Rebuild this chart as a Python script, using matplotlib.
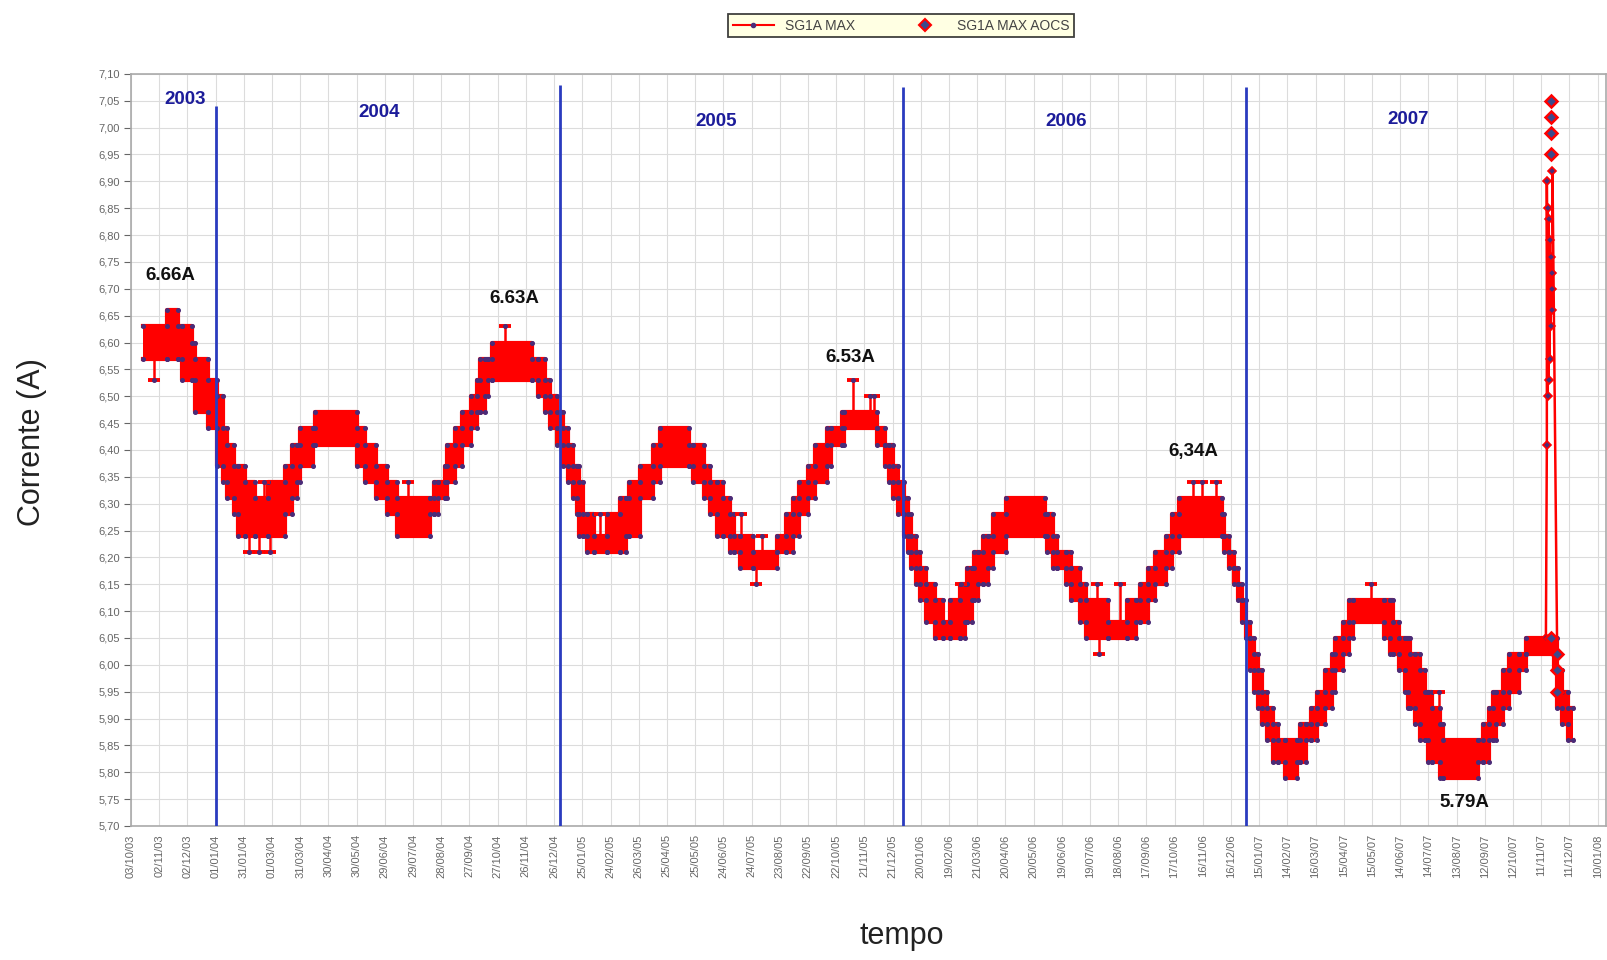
import matplotlib
matplotlib.use('Agg')
import matplotlib.pyplot as plt
from matplotlib.lines import Line2D
from matplotlib.ticker import FuncFormatter
import numpy as np
import pandas as pd

plt.rcParams['font.family'] = ['Liberation Sans', 'DejaVu Sans']

# Giorno zero della serie
inizio = pd.Timestamp('2003-10-03')

# SG1A MAX: fascia giornaliera a gradini (giorno dall'inizio, minimo, massimo)
giorni = [13, 38, 50, 54, 65, 68, 82, 91, 98, 102,
          109, 114, 121, 132, 146, 164, 171, 176, 180, 194,
          196, 240, 249, 261, 272, 283, 318, 322, 327, 334,
          336, 345, 352, 362, 368, 371, 376, 380, 384, 426,
          433, 440, 446, 453, 460, 465, 470, 474, 477, 481,
          485, 492, 506, 520, 527, 530, 541, 555, 563, 594,
          598, 609, 616, 623, 630, 637, 641, 648, 662, 687,
          697, 704, 711, 720, 728, 740, 745, 756, 758, 793,
          802, 806, 811, 816, 822, 826, 830, 835, 839, 846,
          855, 864, 871, 882, 887, 889, 894, 897, 901, 906,
          912, 917, 931, 972, 974, 981, 985, 995, 1000, 1009,
          1016, 1039, 1059, 1069, 1073, 1082, 1089, 1101, 1107, 1115,
          1160, 1163, 1168, 1173, 1178, 1182, 1186, 1190, 1195, 1199,
          1203, 1208, 1215, 1220, 1227, 1240, 1243, 1250, 1255, 1262,
          1270, 1277, 1281, 1289, 1296, 1300, 1333, 1339, 1342, 1349,
          1355, 1358, 1360, 1366, 1371, 1376, 1380, 1384, 1392, 1396,
          1433, 1438, 1445, 1449, 1452, 1459, 1466, 1476, 1484, 1514,
          1517, 1522, 1528, 1534]
minimo = [6.57, 6.57, 6.57, 6.53, 6.53, 6.47, 6.44, 6.37, 6.34, 6.31,
          6.28, 6.24, 6.24, 6.24, 6.24, 6.28, 6.31, 6.34, 6.37, 6.41,
          6.41, 6.37, 6.34, 6.31, 6.28, 6.24, 6.28, 6.28, 6.31, 6.31,
          6.34, 6.37, 6.41, 6.44, 6.47, 6.47, 6.50, 6.53, 6.53, 6.53,
          6.50, 6.47, 6.44, 6.41, 6.37, 6.34, 6.31, 6.28, 6.24, 6.24,
          6.21, 6.21, 6.21, 6.21, 6.24, 6.24, 6.31, 6.34, 6.37, 6.37,
          6.34, 6.31, 6.28, 6.24, 6.24, 6.21, 6.21, 6.18, 6.18, 6.21,
          6.21, 6.24, 6.28, 6.31, 6.34, 6.37, 6.41, 6.41, 6.44, 6.41,
          6.37, 6.34, 6.31, 6.28, 6.24, 6.21, 6.18, 6.15, 6.12, 6.08,
          6.05, 6.05, 6.05, 6.05, 6.08, 6.08, 6.12, 6.12, 6.15, 6.15,
          6.18, 6.21, 6.24, 6.24, 6.21, 6.18, 6.18, 6.15, 6.12, 6.08,
          6.05, 6.05, 6.05, 6.08, 6.08, 6.12, 6.15, 6.18, 6.21, 6.24,
          6.24, 6.21, 6.18, 6.15, 6.12, 6.08, 6.05, 5.99, 5.95, 5.92,
          5.89, 5.86, 5.82, 5.82, 5.79, 5.82, 5.82, 5.86, 5.86, 5.89,
          5.92, 5.95, 5.99, 6.02, 6.05, 6.08, 6.05, 6.02, 6.02, 5.99,
          5.95, 5.92, 5.92, 5.89, 5.86, 5.86, 5.82, 5.82, 5.79, 5.79,
          5.82, 5.82, 5.86, 5.86, 5.89, 5.92, 5.95, 5.99, 6.02, 5.99,
          5.92, 5.89, 5.86, 5.86]
massimo = [6.63, 6.66, 6.63, 6.63, 6.60, 6.57, 6.53, 6.50, 6.44, 6.41,
           6.37, 6.37, 6.34, 6.31, 6.34, 6.37, 6.41, 6.41, 6.44, 6.44,
           6.47, 6.44, 6.41, 6.37, 6.34, 6.31, 6.31, 6.34, 6.34, 6.37,
           6.41, 6.44, 6.47, 6.50, 6.53, 6.57, 6.57, 6.57, 6.60, 6.57,
           6.57, 6.53, 6.50, 6.47, 6.44, 6.41, 6.37, 6.37, 6.34, 6.28,
           6.28, 6.24, 6.28, 6.31, 6.31, 6.34, 6.37, 6.41, 6.44, 6.41,
           6.41, 6.37, 6.34, 6.34, 6.31, 6.28, 6.24, 6.24, 6.21, 6.24,
           6.28, 6.31, 6.34, 6.37, 6.41, 6.44, 6.44, 6.47, 6.47, 6.44,
           6.41, 6.41, 6.37, 6.34, 6.31, 6.28, 6.24, 6.21, 6.18, 6.15,
           6.12, 6.08, 6.12, 6.15, 6.15, 6.18, 6.18, 6.21, 6.21, 6.24,
           6.24, 6.28, 6.31, 6.28, 6.28, 6.24, 6.21, 6.21, 6.18, 6.15,
           6.12, 6.08, 6.12, 6.12, 6.15, 6.18, 6.21, 6.24, 6.28, 6.31,
           6.28, 6.24, 6.21, 6.18, 6.15, 6.12, 6.08, 6.05, 6.02, 5.99,
           5.95, 5.92, 5.89, 5.86, 5.86, 5.86, 5.89, 5.89, 5.92, 5.95,
           5.99, 6.02, 6.05, 6.08, 6.12, 6.12, 6.12, 6.12, 6.08, 6.05,
           6.05, 6.05, 6.02, 6.02, 5.99, 5.95, 5.95, 5.92, 5.89, 5.86,
           5.86, 5.89, 5.92, 5.95, 5.95, 5.99, 6.02, 6.02, 6.05, 6.05,
           5.99, 5.95, 5.92, 5.92]

# letture isolate fuori dalla fascia
giorni_isolati = [24, 125, 136, 141, 148, 295, 398, 499, 649, 665, 671,
                  768, 786, 790, 883, 1027, 1030, 1052, 1130, 1139, 1154,
                  1319, 1391]
valori_isolati = [6.53, 6.21, 6.21, 6.34, 6.21, 6.34, 6.63, 6.28, 6.28, 6.15, 6.24,
                  6.53, 6.50, 6.50, 6.15, 6.15, 6.02, 6.15, 6.34, 6.34, 6.34,
                  6.15, 5.95]

# picco di novembre 2007
giorni_picco = [1505, 1506, 1506, 1507, 1507, 1508, 1508, 1509, 1509,
                1510, 1510, 1511, 1511, 1512, 1512, 1517]
valori_picco = [6.05, 6.41, 6.90, 6.50, 6.85, 6.53, 6.83, 6.57, 6.79,
                6.63, 6.76, 6.66, 6.73, 6.70, 6.92, 6.02]

# SG1A MAX AOCS
giorni_aocs = [1510, 1510, 1510, 1510, 1510, 1517, 1517, 1517]
valori_aocs = [7.05, 7.02, 6.99, 6.95, 6.05, 6.02, 5.99, 5.95]

# massimi e minimi annotati
giorni_note = [42, 408, 765, 1130, 1418]
valori_note = [6.66, 6.63, 6.53, 6.34, 5.79]
testi_note = ['6.66A', '6.63A', '6.53A', '6,34A', '5.79A']
scarto_note = [0.065, 0.052, 0.043, 0.058, -0.047]

# separatori d'anno
anni = ['2003', '2004', '2005', '2006', '2007']
giorni_anni = [57, 264, 622, 995, 1358]
quota_anni = [7.052, 7.028, 7.011, 7.011, 7.016]
cambio_anno = ['2004-01-01', '2005-01-01', '2006-01-01', '2007-01-01']
cima_linee = [7.04, 7.08, 7.075, 7.076]

etichette = ['03/10/03', '02/11/03', '02/12/03', '01/01/04', '31/01/04', '01/03/04',
             '31/03/04', '30/04/04', '30/05/04', '29/06/04', '29/07/04', '28/08/04',
             '27/09/04', '27/10/04', '26/11/04', '26/12/04', '25/01/05', '24/02/05',
             '26/03/05', '25/04/05', '25/05/05', '24/06/05', '24/07/05', '23/08/05',
             '22/09/05', '22/10/05', '21/11/05', '21/12/05', '20/01/06', '19/02/06',
             '21/03/06', '20/04/06', '20/05/06', '19/06/06', '19/07/06', '18/08/06',
             '17/09/06', '17/10/06', '16/11/06', '16/12/06', '15/01/07', '14/02/07',
             '16/03/07', '15/04/07', '15/05/07', '14/06/07', '14/07/07', '13/08/07',
             '12/09/07', '12/10/07', '11/11/07', '11/12/07', '10/01/08']

rosso = '#ff0000'
punto = '#4a2c78'
blu = '#2a3bbf'
grigio = '#666666'


def data(g):
    return inizio + pd.to_timedelta(np.asarray(g), unit='D')


fig = plt.figure(figsize=(16.08, 9.6), dpi=100)
ax = fig.add_axes([0.0815, 0.1396, 0.9173, 0.7834])

d = data(giorni)
lo = np.array(minimo)
hi = np.array(massimo)

# fascia giornaliera
ax.fill_between(d, lo, hi, step='post', color=rosso, lw=0, zorder=3)
ax.step(d, hi, where='post', color=rosso, lw=3.0, zorder=4)
ax.step(d, lo, where='post', color=rosso, lw=3.0, zorder=4)
for y in (hi, lo):
    ax.plot(d[:-1], y[:-1], ls='none', marker='o', ms=2.6, mfc=punto, mec=punto, zorder=5)
    ax.plot(d[1:], y[:-1], ls='none', marker='o', ms=2.6, mfc=punto, mec=punto, zorder=5)

# letture isolate: tratto verticale dalla fascia al valore
idx = np.searchsorted(giorni, giorni_isolati, side='right') - 1
base = (lo[idx] + hi[idx]) / 2
ax.vlines(data(giorni_isolati), base, valori_isolati, color=rosso, lw=1.8, zorder=4)
ax.plot(data(giorni_isolati), valori_isolati, ls='none', marker='_', ms=9, mew=2.8,
        color=rosso, zorder=5)
ax.plot(data(giorni_isolati), valori_isolati, ls='none', marker='o', ms=2.6,
        mfc=punto, mec=punto, zorder=6)

# picco
ax.plot(data(giorni_picco), valori_picco, color=rosso, lw=1.8, marker='D', ms=4.5,
        mfc=punto, mec=rosso, mew=1.2, zorder=6)
ax.plot(data(giorni_aocs), valori_aocs, ls='none', marker='D', ms=6.5, mfc='#3b4a8c',
        mec=rosso, mew=1.8, zorder=7)

# separatori e anni
ax.vlines(pd.to_datetime(cambio_anno), 5.70, cima_linee, color=blu, lw=2, zorder=6)
for a, g, q in zip(anni, giorni_anni, quota_anni):
    ax.text(data([g])[0], q, a, color='#1c1c9a', fontsize=13.5, fontweight='bold',
            ha='center', va='center', zorder=8)

for g, v, t, s in zip(giorni_note, valori_note, testi_note, scarto_note):
    ax.text(data([g])[0], v + s, t, color='#111111', fontsize=13.5, fontweight='bold',
            ha='center', va='center', zorder=8)

# assi
tick = pd.to_datetime(etichette, format='%d/%m/%y')
ax.set_xticks(tick)
ax.set_xticklabels(etichette, rotation=90, fontsize=8, color=grigio)
ax.set_xlim(inizio, data([1569])[0])
ax.set_ylim(5.70, 7.10)
ax.set_yticks(np.arange(5.70, 7.101, 0.05))
ax.yaxis.set_major_formatter(FuncFormatter(lambda v, p: f'{v:.2f}'.replace('.', ',')))
ax.tick_params(axis='y', labelsize=8, colors=grigio, length=5, width=0.8, pad=3)
ax.tick_params(axis='x', colors=grigio, length=0, pad=6)
ax.grid(True, color='#dcdcdc', lw=0.8, zorder=0)
for s in ax.spines.values():
    s.set_color('#aaaaaa')
    s.set_linewidth(1.2)

fig.text(0.02, 0.54, 'Corrente (A)', rotation=90, fontsize=22, ha='center', va='center',
         color='#222222')
fig.text(0.561, 0.025, 'tempo', fontsize=22, ha='center', va='center', color='#222222')

maniglie = [Line2D([], [], color=rosso, lw=1.5, marker='o', ms=3, mfc=punto, mec=punto),
            Line2D([], [], ls='none', marker='D', ms=6, mfc='#3b4a8c', mec=rosso, mew=1.5)]
leg = fig.legend(maniglie, ['SG1A MAX', 'SG1A MAX AOCS'], loc='upper center',
                 bbox_to_anchor=(0.5603, 0.993), ncol=2, fontsize=10, frameon=True,
                 fancybox=False, facecolor='#ffffdc', edgecolor='#111111',
                 handlelength=3, columnspacing=3.5, borderpad=0.35)
leg.get_frame().set_linewidth(1.3)
for t in leg.get_texts():
    t.set_color('#444444')

fig.savefig('out.png', dpi=100, facecolor='white')
